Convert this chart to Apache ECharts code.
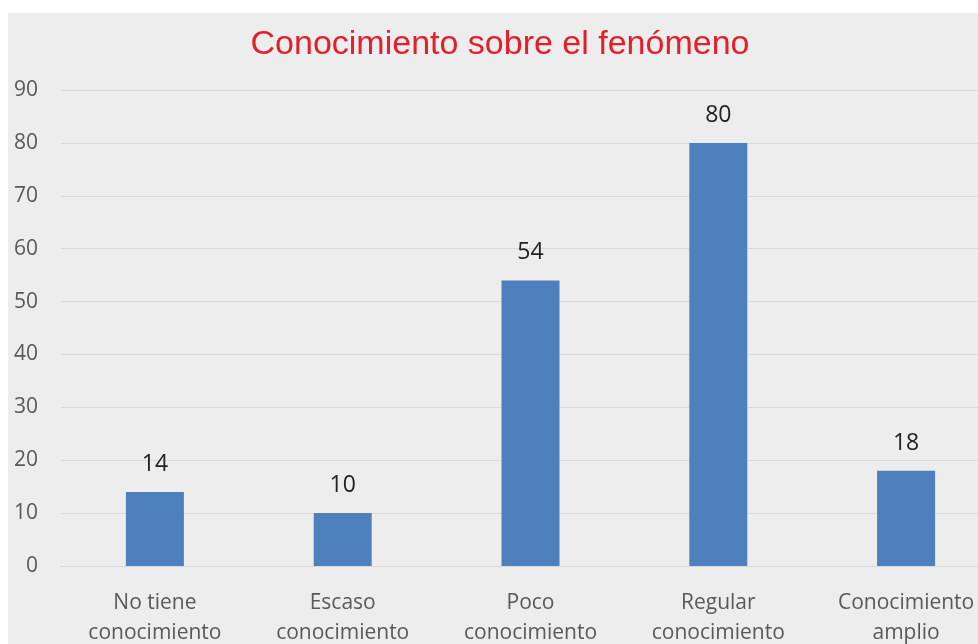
<!DOCTYPE html>
<html>
<head>
<meta charset="utf-8">
<script src="https://cdn.jsdelivr.net/npm/echarts@6/dist/echarts.min.js"></script>
<style>
  html, body { margin: 0; padding: 0; background: #fff; }
  #myChart { position: absolute; left: 8px; top: 13px; width: 970px; height: 631px; background: #ededed; }
</style>
</head>
<body>
<div id="myChart"></div>
<script>
var titleText = 'Conocimiento sobre el fenómeno';
var categories = ['No tiene\nconocimiento', 'Escaso\nconocimiento', 'Poco\nconocimiento', 'Regular\nconocimiento', 'Conocimiento\namplio'];
var values = [14, 10, 54, 80, 18];
var yTicks = { min: 0, max: 90, interval: 10 };

var option = {
    backgroundColor: '#ededed',
    animation: false,
    title: {
        text: titleText,
        left: 487,
        top: 10,
        textAlign: 'center',
        textStyle: {
            color: '#e0202c',
            fontFamily: 'Liberation Sans',
            fontWeight: 'normal',
            fontSize: 34
        }
    },
    grid: {
        left: 53,
        width: 939,
        top: 77,
        bottom: 631 - 553,
        containLabel: false,
        outerBoundsMode: 'none'
    },
    xAxis: {
        type: 'category',
        data: categories,
        axisLine: { show: true, lineStyle: { color: '#d9d9d9', width: 1 } },
        axisTick: { show: false },
        axisLabel: {
            color: '#595959',
            fontFamily: 'Open Sans',
            fontSize: 21,
            lineHeight: 30,
            margin: 22,
            interval: 0,
            hideOverlap: false
        }
    },
    yAxis: {
        type: 'value',
        min: yTicks.min,
        max: yTicks.max,
        interval: yTicks.interval,
        axisLine: { show: false },
        axisTick: { show: false },
        splitLine: { lineStyle: { color: '#d9d9d9', width: 1 } },
        axisLabel: {
            color: '#595959',
            fontFamily: 'Open Sans',
            fontSize: 21,
            margin: 23
        }
    },
    series: [{
        type: 'bar',
        data: values,
        barWidth: 58,
        itemStyle: { color: '#4e80bd' },
        label: {
            show: true,
            position: 'top',
            distance: 16,
            color: '#222',
            fontFamily: 'Open Sans',
            fontSize: 23
        }
    }]
};

var myChart = echarts.init(document.getElementById('myChart'));
myChart.setOption(option);
</script>
</body>
</html>
